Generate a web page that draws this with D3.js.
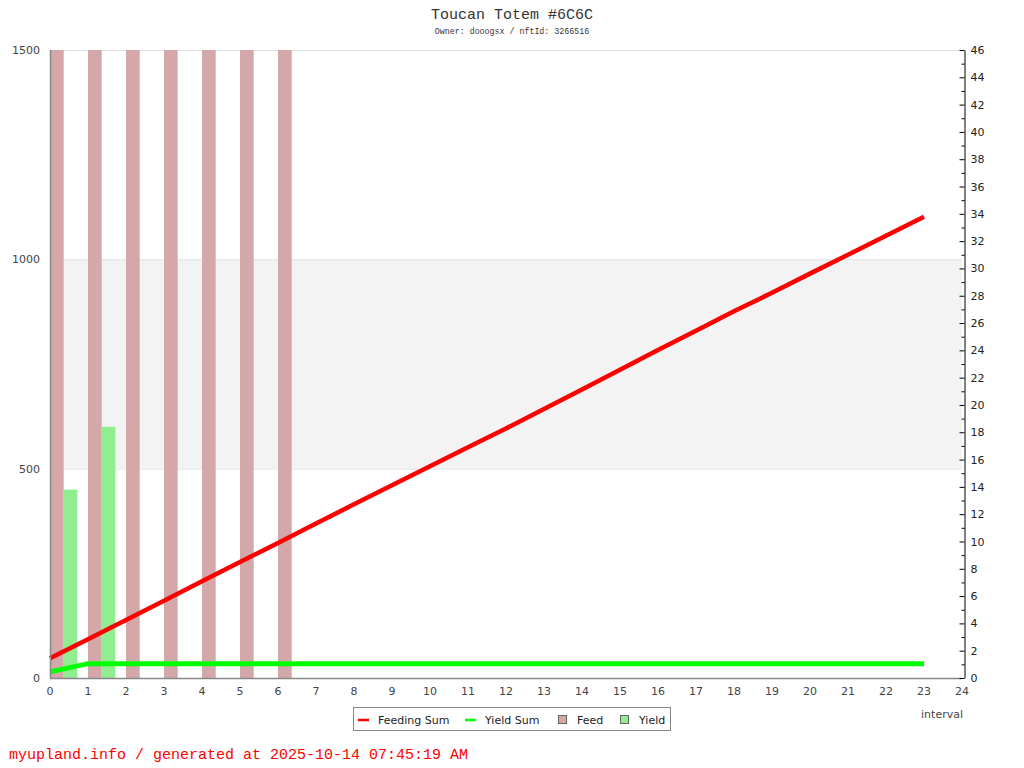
<!DOCTYPE html>
<html>
<head>
<meta charset="utf-8">
<script src="https://cdn.jsdelivr.net/npm/d3@7"></script>
<style>
  html, body { margin: 0; padding: 0; background: #fff; }
  svg { display: block; }
</style>
</head>
<body>
<svg id="chart" width="1024" height="768"></svg>
<script>
// interval index on the x axis
const intervals = d3.range(0, 24)
// bar series (left axis)
const feed = [1500, 1500, 1500, 1500, 1500, 1500, 1500, 0, 0, 0, 0, 0, 0, 0, 0, 0, 0, 0, 0, 0, 0, 0, 0, 0]
const yieldValues = [450, 600, 0, 0, 0, 0, 0, 0, 0, 0, 0, 0, 0, 0, 0, 0, 0, 0, 0, 0, 0, 0, 0, 0]
// cumulative sums (right axis, thousands)
const feedingSum = [1.44, 2.84, 4.25, 5.66, 7.08, 8.49, 9.89, 11.32, 12.72, 14.12, 15.51, 16.9,
  18.28, 19.7, 21.13, 22.58, 24.02, 25.44, 26.86, 28.22, 29.62, 31.0, 32.4, 33.78]
const yieldSum = [0.45, 1.05, 1.05, 1.05, 1.05, 1.05, 1.05, 1.05, 1.05, 1.05, 1.05, 1.05,
  1.05, 1.05, 1.05, 1.05, 1.05, 1.05, 1.05, 1.05, 1.05, 1.05, 1.05, 1.05]
const leftTicks = [0, 500, 1000, 1500]
const legendItems = [
  { label: 'Feeding Sum', type: 'line', color: '#ff0000' },
  { label: 'Yield Sum', type: 'line', color: '#00ff00' },
  { label: 'Feed', type: 'box', color: '#d4a8a8' },
  { label: 'Yield', type: 'box', color: '#90ee90' }
]

const plot = { left: 50, right: 962, top: 50, bottom: 678 }
const sans = 'DejaVu Sans, sans-serif'
const mono = 'Liberation Mono, DejaVu Sans Mono, monospace'
const fs = 11

const svg = d3.select('#chart')

const x = d3.scaleLinear().domain([0, 24]).range([plot.left, plot.right])
const yLeft = d3.scaleLinear().domain([0, 1500]).range([plot.bottom, plot.top])
const yRight = d3.scaleLinear().domain([0, 46]).range([plot.bottom, plot.top])

svg.append('defs').append('clipPath').attr('id', 'plotClip')
  .append('rect')
  .attr('x', plot.left).attr('y', plot.top)
  .attr('width', plot.right - plot.left).attr('height', plot.bottom - plot.top)

// background band between 500 and 1000
svg.append('rect')
  .attr('x', plot.left).attr('y', yLeft(1000))
  .attr('width', plot.right - plot.left)
  .attr('height', yLeft(500) - yLeft(1000))
  .attr('fill', '#f3f3f3')

// horizontal grid lines
svg.append('g').selectAll('line').data(leftTicks.slice(1)).enter().append('line')
  .attr('x1', plot.left).attr('x2', plot.right)
  .attr('y1', (d) => yLeft(d) + 0.5).attr('y2', (d) => yLeft(d) + 0.5)
  .attr('stroke', '#e2e2e2')

// bars
const barW = x(0.36) - x(0)
const bars = svg.append('g').attr('clip-path', 'url(#plotClip)')
bars.selectAll('rect.feed').data(intervals.filter((i) => feed[i] > 0)).enter().append('rect')
  .attr('class', 'feed')
  .attr('x', (i) => x(i))
  .attr('y', (i) => yLeft(feed[i]))
  .attr('width', barW)
  .attr('height', (i) => yLeft(0) - yLeft(feed[i]))
  .attr('fill', '#d4a8a8')
bars.selectAll('rect.yield').data(intervals.filter((i) => yieldValues[i] > 0)).enter().append('rect')
  .attr('class', 'yield')
  .attr('x', (i) => x(i + 0.36))
  .attr('y', (i) => yLeft(yieldValues[i]))
  .attr('width', barW)
  .attr('height', (i) => yLeft(0) - yLeft(yieldValues[i]))
  .attr('fill', '#90ee90')

// lines
const line = (arr) => d3.line().x((d, i) => x(i)).y((d) => yRight(d))(arr)
svg.append('path').attr('d', line(feedingSum))
  .attr('fill', 'none').attr('stroke', '#ff0000').attr('stroke-width', 4.5)
svg.append('path').attr('d', line(yieldSum))
  .attr('fill', 'none').attr('stroke', '#00ff00').attr('stroke-width', 5)

// left axis
svg.append('line')
  .attr('x1', plot.left + 0.5).attr('x2', plot.left + 0.5)
  .attr('y1', plot.top).attr('y2', plot.bottom)
  .attr('stroke', '#888').attr('stroke-width', 1.5)
svg.append('g').selectAll('text').data(leftTicks).enter().append('text')
  .attr('x', 40).attr('y', (d) => yLeft(d) + 4)
  .attr('text-anchor', 'end')
  .attr('font-family', sans).attr('font-size', fs).attr('fill', '#444')
  .text((d) => d)

// bottom axis
svg.append('line')
  .attr('x1', plot.left).attr('x2', plot.right)
  .attr('y1', plot.bottom + 0.5).attr('y2', plot.bottom + 0.5)
  .attr('stroke', '#888').attr('stroke-width', 1.5)
svg.append('g').selectAll('text').data(d3.range(0, 25)).enter().append('text')
  .attr('x', (d) => x(d)).attr('y', 695)
  .attr('text-anchor', 'middle')
  .attr('font-family', sans).attr('font-size', fs).attr('fill', '#444')
  .text((d) => d)
svg.append('text')
  .attr('x', 963).attr('y', 718).attr('text-anchor', 'end')
  .attr('font-family', sans).attr('font-size', fs).attr('fill', '#444')
  .text('interval')

// right axis
const rightAxis = d3.axisRight(yRight)
  .tickValues(d3.range(0, 47, 1))
  .tickSize(0)
  .tickFormat((d) => (d % 2 === 0 ? d : ''))
const ra = svg.append('g').attr('transform', `translate(${plot.right + 2.5},0)`).call(rightAxis)
ra.select('.domain').attr('stroke', '#000')
ra.selectAll('.tick line').attr('x2', (d) => (d % 2 === 0 ? -5 : -3)).attr('stroke', '#000')
ra.selectAll('.tick text')
  .attr('x', 6)
  .attr('font-family', sans).attr('font-size', fs).attr('fill', '#222')

// title
svg.append('text')
  .attr('x', 512).attr('y', 19).attr('text-anchor', 'middle')
  .attr('font-family', mono).attr('font-size', 15).attr('fill', '#333')
  .text('Toucan Totem #6C6C')
svg.append('text')
  .attr('x', 512).attr('y', 34).attr('text-anchor', 'middle')
  .attr('font-family', mono).attr('font-size', 8.3).attr('fill', '#333')
  .text('Owner: dooogsx / nftId: 3266516')

// legend
const legend = svg.append('g')
legend.append('rect')
  .attr('x', 353.5).attr('y', 707.5).attr('width', 317).attr('height', 23)
  .attr('fill', '#fff').attr('stroke', '#888')
const legendX = [358, 465, 558, 620]
legendItems.forEach((item, k) => {
  const lx = legendX[k]
  if (item.type === 'line') {
    legend.append('line')
      .attr('x1', lx).attr('x2', lx + 11).attr('y1', 720).attr('y2', 720)
      .attr('stroke', item.color).attr('stroke-width', 2.5)
  } else {
    legend.append('rect')
      .attr('x', lx + 0.5).attr('y', 715.5).attr('width', 8).attr('height', 8)
      .attr('fill', item.color).attr('stroke', '#666')
  }
  legend.append('text')
    .attr('x', lx + (item.type === 'line' ? 20 : 19)).attr('y', 724)
    .attr('font-family', sans).attr('font-size', fs).attr('fill', '#222')
    .text(item.label)
})

// footer
svg.append('text')
  .attr('x', 9).attr('y', 759)
  .attr('font-family', mono).attr('font-size', 15).attr('fill', '#ff0000')
  .text('myupland.info / generated at 2025-10-14 07:45:19 AM')
</script>
</body>
</html>
